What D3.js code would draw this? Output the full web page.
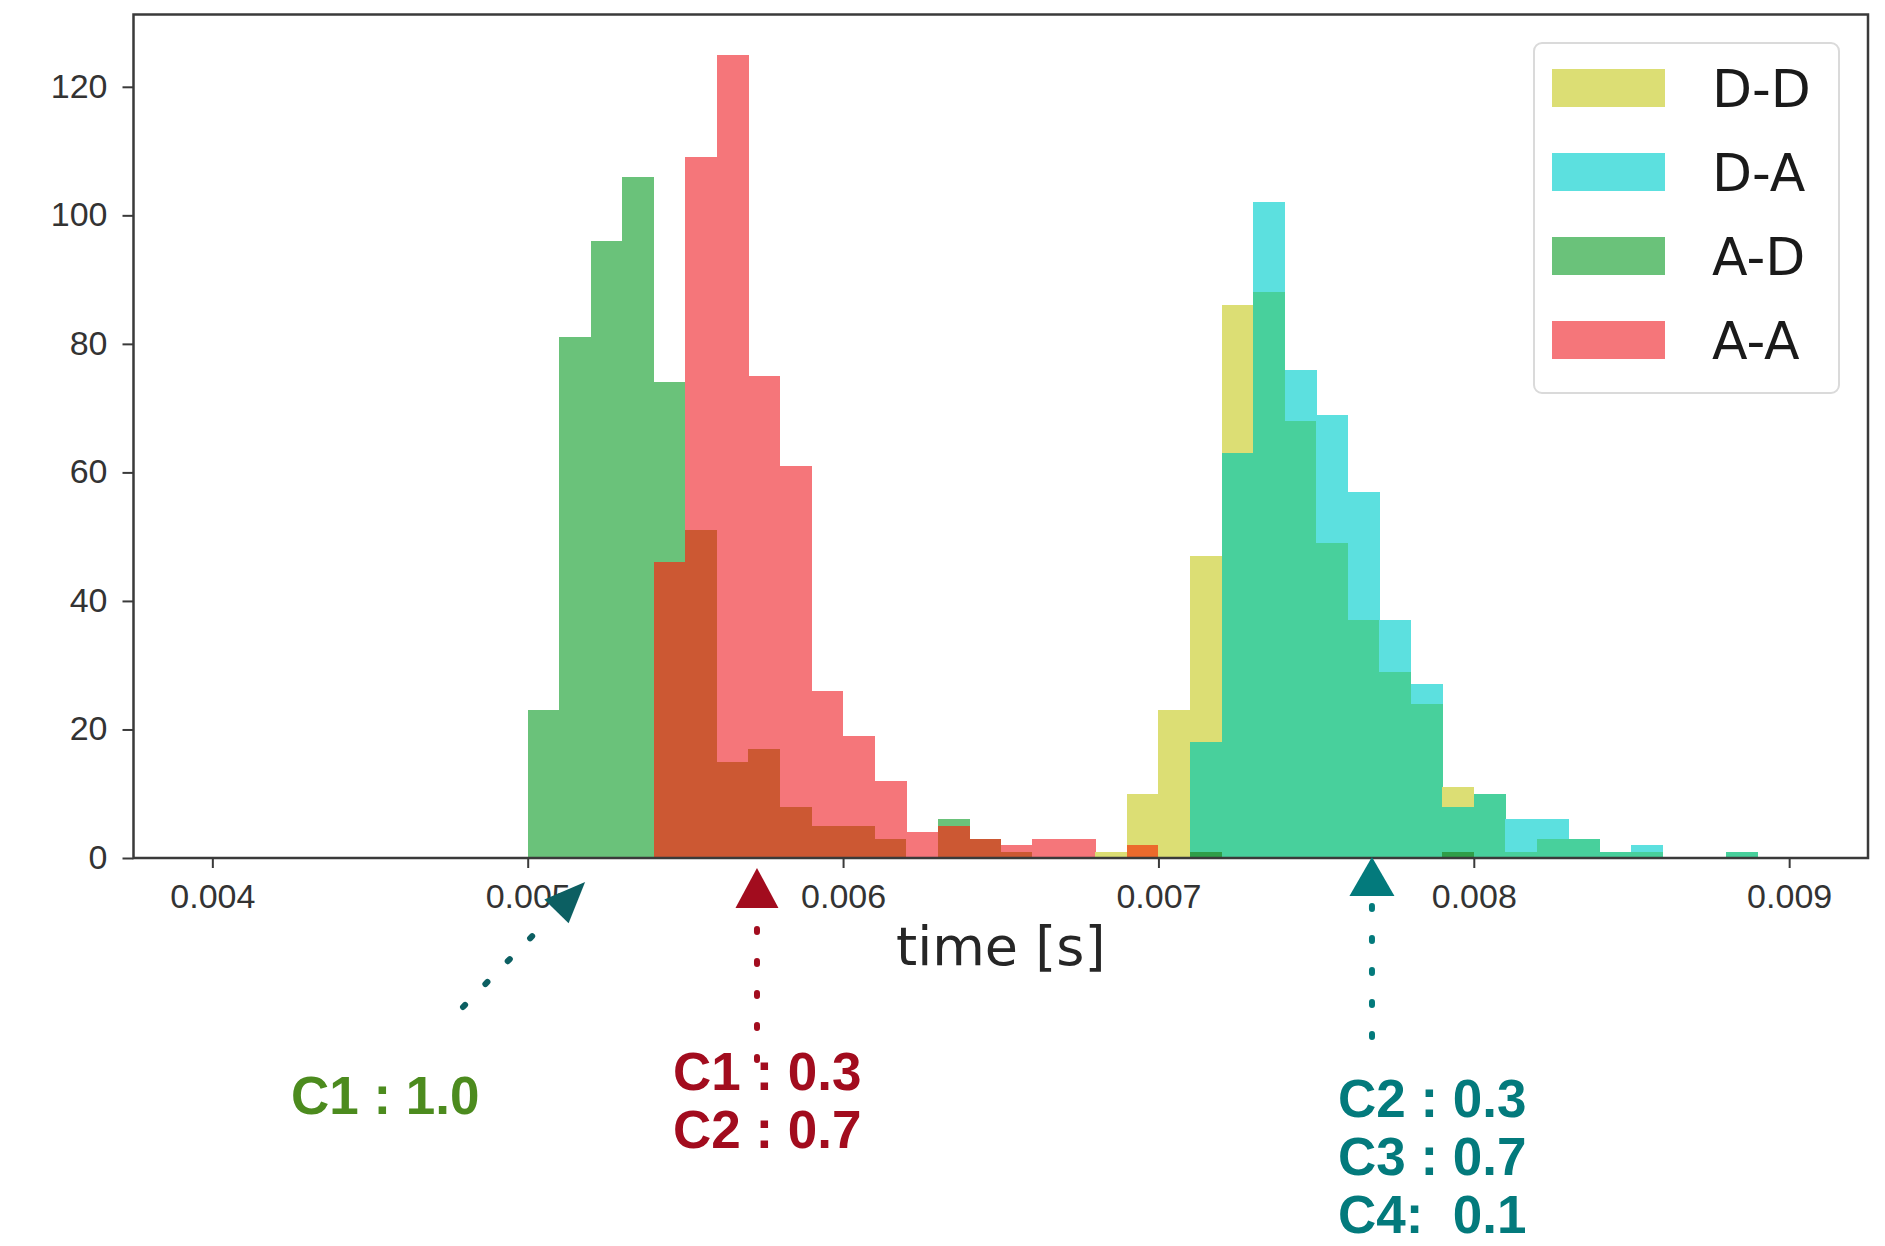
<!DOCTYPE html>
<html>
<head>
<meta charset="utf-8">
<script src="https://cdn.jsdelivr.net/npm/d3@7"></script>
<style>
  body { margin: 0; background: #fff; }
  svg { display: block; }
</style>
</head>
<body>
<svg id="chart" width="1885" height="1246"></svg>
<script>
// histogram bins: 0.0040 .. 0.0090 s, width 0.0001 s
const binStart = 0.004;
const binWidth = 0.0001;
const binCount = 50;

const seriesNames = ["D-D", "D-A", "A-D", "A-A"];

const countsDD = [
  0, 0, 0, 0, 0, 0, 0, 0, 0, 0,
  0, 0, 0, 0, 0, 0, 0, 0, 0, 0,
  0, 0, 0, 0, 0, 0, 0, 0, 1, 10,
  23, 47, 86, 88, 68, 49, 37, 29, 24, 11,
  10, 1, 3, 3, 1, 1, 0, 0, 1, 0
];
const countsDA = [
  0, 0, 0, 0, 0, 0, 0, 0, 0, 0,
  0, 0, 0, 0, 0, 0, 0, 0, 0, 0,
  0, 0, 0, 0, 0, 0, 0, 0, 0, 0,
  0, 18, 63, 102, 76, 69, 57, 37, 27, 8,
  10, 6, 6, 3, 1, 2, 0, 0, 1, 0
];
const countsAD = [
  0, 0, 0, 0, 0, 0, 0, 0, 0, 0,
  23, 81, 96, 106, 74, 51, 15, 17, 8, 5,
  5, 3, 0, 6, 3, 1, 0, 0, 0, 0,
  0, 1, 0, 0, 0, 0, 0, 0, 0, 1,
  0, 0, 0, 0, 0, 0, 0, 0, 0, 0
];
const countsAA = [
  0, 0, 0, 0, 0, 0, 0, 0, 0, 0,
  0, 0, 0, 0, 46, 109, 125, 75, 61, 26,
  19, 12, 4, 5, 3, 2, 3, 3, 0, 2,
  0, 0, 0, 0, 0, 0, 0, 0, 0, 0,
  0, 0, 0, 0, 0, 0, 0, 0, 0, 0
];

const xTicks = [0.004, 0.005, 0.006, 0.007, 0.008, 0.009];
const yTicks = [0, 20, 40, 60, 80, 100, 120];

// colours of single series and of the see-through overlaps
const fills = {
  "D-D": "#dcde74",
  "D-A": "#5ce0df",
  "A-D": "#6ac27a",
  "A-A": "#f5767a",
  "D-D|D-A": "#48d09c",
  "A-D|A-A": "#cc5833",
  "D-D|A-A": "#ec6a2c",
  "D-D|D-A|A-D": "#2f9e48"
};

const svg = d3.select("#chart");
const plot = { left: 133.5, right: 1868, top: 14.5, bottom: 858 };

const x = d3.scaleLinear()
    .domain([binStart - 0.05 * binCount * binWidth, binStart + 1.05 * binCount * binWidth])
    .range([plot.left, plot.right]);
const y = d3.scaleLinear()
    .domain([0, 125 * 1.05])
    .range([plot.bottom, plot.top]);

const counts = [countsDD, countsDA, countsAD, countsAA];

// split every bin into stacked pieces, each piece coloured by which series cover it
const pieces = [];
for (let i = 0; i < binCount; i++) {
  const vals = counts.map(c => c[i]);
  const levels = Array.from(new Set(vals.filter(v => v > 0))).sort((a, b) => a - b);
  let lo = 0;
  levels.forEach(level => {
    const cover = seriesNames.filter((n, k) => vals[k] >= level);
    const key = cover.join("|");
    let fill = fills[key];
    if (!fill) {
      fill = cover.map(n => fills[n]).reduce((a, b) => d3.interpolateRgb(a, b)(0.5));
    }
    pieces.push({ x0: binStart + i * binWidth, x1: binStart + (i + 1) * binWidth, lo, hi: level, fill });
    lo = level;
  });
}

svg.append("g")
  .selectAll("rect")
  .data(pieces)
  .join("rect")
    .attr("x", d => x(d.x0))
    .attr("width", d => x(d.x1) - x(d.x0) + 0.4)
    .attr("y", d => y(d.hi))
    .attr("height", d => y(d.lo) - y(d.hi))
    .attr("fill", d => d.fill)
    .attr("shape-rendering", "crispEdges");

// axes
const xAxis = svg.append("g")
    .attr("transform", `translate(0,${plot.bottom})`)
    .call(d3.axisBottom(x).tickValues(xTicks).tickFormat(d3.format(".3f")).tickSize(10).tickPadding(16));
const yAxis = svg.append("g")
    .attr("transform", `translate(${plot.left},0)`)
    .call(d3.axisLeft(y).tickValues(yTicks).tickFormat(d3.format("d")).tickSize(11).tickPadding(16));

[xAxis, yAxis].forEach(a => {
  a.select(".domain").remove();
  a.selectAll(".tick line").attr("stroke", "#3a3a3a").attr("stroke-width", 2);
  a.selectAll(".tick text")
    .attr("fill", "#333")
    .style("font-family", "'Liberation Sans', Arial, sans-serif")
    .style("font-size", "34px");
});
yAxis.selectAll(".tick text").attr("x", -26).attr("dy", "0.3em");

// frame
svg.append("rect")
    .attr("x", plot.left)
    .attr("y", plot.top)
    .attr("width", plot.right - plot.left)
    .attr("height", plot.bottom - plot.top)
    .attr("fill", "none")
    .attr("stroke", "#3a3a3a")
    .attr("stroke-width", 2.5);

svg.append("text")
    .attr("x", (plot.left + plot.right) / 2)
    .attr("y", 965)
    .attr("text-anchor", "middle")
    .attr("fill", "#262626")
    .style("font-family", "'DejaVu Sans', sans-serif")
    .style("font-size", "54px")
    .text("time [s]");

// legend
const legend = svg.append("g");
legend.append("rect")
    .attr("x", 1534).attr("y", 43)
    .attr("width", 305).attr("height", 350)
    .attr("rx", 8)
    .attr("fill", "#fff")
    .attr("stroke", "#dadada")
    .attr("stroke-width", 2);
const rows = legend.selectAll("g.row")
  .data(seriesNames)
  .join("g")
    .attr("class", "row")
    .attr("transform", (d, i) => `translate(1552,${88 + i * 84})`);
rows.append("rect")
    .attr("x", 0).attr("y", -19)
    .attr("width", 113).attr("height", 38)
    .attr("fill", d => fills[d]);
rows.append("text")
    .attr("x", 160).attr("y", 19)
    .attr("fill", "#1a1a1a")
    .style("font-family", "'DejaVu Sans', sans-serif")
    .style("font-size", "52px")
    .text(d => d);

// annotations below the axis
const arrows = [
  { color: "#0c5f62", tip: [x(0.005182), 882], tail: [463, 1007], len: 41, wid: 34 },
  { color: "#a20c1e", tip: [x(0.005727), 868], tail: [757, 1060], len: 40, wid: 43 },
  { color: "#037a7c", tip: [x(0.007677), 857], tail: [1372, 1037], len: 39, wid: 45 }
];
arrows.forEach(a => {
  const dx = a.tail[0] - a.tip[0], dy = a.tail[1] - a.tip[1];
  const L = Math.hypot(dx, dy), ux = dx / L, uy = dy / L;
  const bx = a.tip[0] + ux * a.len, by = a.tip[1] + uy * a.len;
  const px = -uy * a.wid / 2, py = ux * a.wid / 2;
  svg.append("path")
      .attr("d", `M${a.tip[0]},${a.tip[1]}L${bx + px},${by + py}L${bx - px},${by - py}Z`)
      .attr("fill", a.color);
  // dots laid out from the tail towards the head
  svg.append("line")
      .attr("x1", a.tail[0]).attr("y1", a.tail[1])
      .attr("x2", bx + ux * 8).attr("y2", by + uy * 8)
      .attr("stroke", a.color)
      .attr("stroke-width", 6)
      .attr("stroke-linecap", "round")
      .attr("stroke-dasharray", "3 29");
});

const notes = [
  { color: "#4c8b1e", x: 291, y: 1114, lines: ["C1 : 1.0"] },
  { color: "#a20c1e", x: 673, y: 1090, lines: ["C1 : 0.3", "C2 : 0.7"] },
  { color: "#037a7c", x: 1338, y: 1117, lines: ["C2 : 0.3", "C3 : 0.7", "C4:  0.1"] }
];
notes.forEach(n => {
  svg.append("g")
    .selectAll("text")
    .data(n.lines)
    .join("text")
      .attr("x", n.x)
      .attr("y", (d, i) => n.y + i * 58)
      .attr("fill", n.color)
      .attr("xml:space", "preserve")
      .style("white-space", "pre")
      .style("font-family", "'Liberation Sans', Arial, sans-serif")
      .style("font-weight", "bold")
      .style("font-size", "53px")
      .text(d => d);
});
</script>
</body>
</html>
